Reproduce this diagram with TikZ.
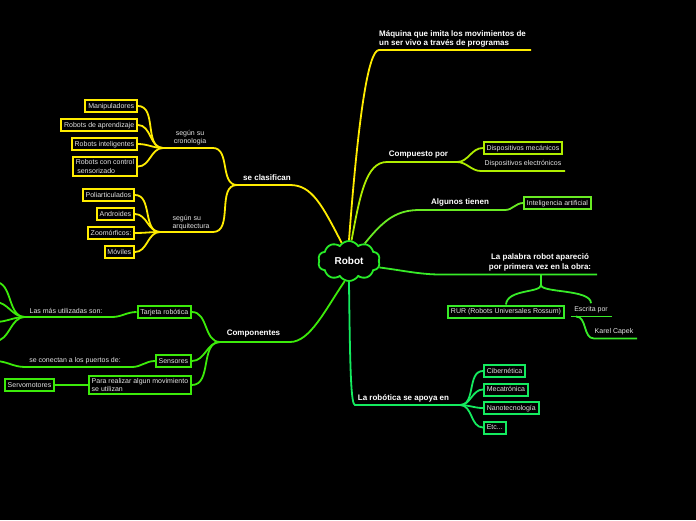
\documentclass[tikz,border=0pt]{standalone}
\usepackage{fontspec}
\setmainfont{Liberation Sans}
\usetikzlibrary{shapes.symbols}

\definecolor{ylw}{RGB}{255,236,0}
\definecolor{chart}{RGB}{175,238,0}
\definecolor{algc}{RGB}{105,235,35}
\definecolor{palc}{RGB}{55,235,40}
\definecolor{apoc}{RGB}{20,235,95}
\definecolor{cpoc}{RGB}{60,235,10}
\definecolor{cloudc}{RGB}{40,235,40}
\definecolor{txt}{RGB}{228,228,228}

\begin{document}
\begin{tikzpicture}[x=1pt, y=-1pt,
    every node/.style={font=\fontsize{7}{8.5}\selectfont, text=txt},
    leaf/.style={draw, line width=2pt, fill=black, inner xsep=2.8pt, inner ysep=2.4pt, text height=5.6pt, text depth=1.6pt},
    topic/.style={font=\bfseries\fontsize{8}{9.5}\selectfont, text=white, inner sep=1pt},
    sub/.style={align=center},
    link/.style={line width=1.8pt}]
\useasboundingbox (0,0) rectangle (696,520);
\clip (0,0) rectangle (696,520);
\fill[black] (0,0) rectangle (696,520);

\node[cloud, cloud puffs=10, cloud puff arc=115, aspect=1.6, draw=cloudc, line width=1.8pt, fill=black,
      minimum width=62pt, minimum height=40pt, inner sep=0pt,
      font=\bfseries\fontsize{10}{12}\selectfont, text=white] (robot) at (349,261) {Robot};

% se clasifican
\coordinate (clasL) at (237,185); \coordinate (clasR) at (290,185);
\node[topic] (clas) at (267,178) {se clasifican};
\draw[link, ylw] (robot.112) .. controls (322,205) and (312,185) .. (clasR) -- (clasL);
\coordinate (cronL) at (163,148); \coordinate (cronR) at (213,148);
\node[sub] (cron) at (190,137.5) {según su\\ cronologia};
\draw[link, ylw] (clasL) to[out=180,in=0] (cronR) -- (cronL);
\coordinate (arqL) at (160,232); \coordinate (arqR) at (213,232);
\node[align=left, anchor=west] (arq) at (169,222.5) {según su\\arquitectura};
\draw[link, ylw] (clasL) to[out=180,in=0] (arqR) -- (arqL);

\node[leaf, draw=ylw, anchor=east] (manip) at (138,106) {Manipuladores};
\node[leaf, draw=ylw, anchor=east] (aprend) at (138,125) {Robots de aprendizaje};
\node[leaf, draw=ylw, anchor=east] (intel) at (138,144) {Robots inteligentes};
\node[leaf, draw=ylw, anchor=east, align=left, text height=, text depth=] (senso) at (138,166.5) {Robots con control\\\hspace{1.5pt}sensorizado};
\foreach \n in {manip,aprend,intel,senso}
  \draw[link, ylw] (cronL) to[out=180,in=0] (\n.east);

\node[leaf, draw=ylw, anchor=east] (poli) at (135,195) {Poliarticulados};
\node[leaf, draw=ylw, anchor=east] (andr) at (135,214) {Androides};
\node[leaf, draw=ylw, anchor=east] (zoom) at (135,233) {Zoomórficos:};
\node[leaf, draw=ylw, anchor=east] (movil) at (135,252) {Móviles};
\foreach \n in {poli,andr,zoom,movil}
  \draw[link, ylw] (arqL) to[out=180,in=0] (\n.east);

% definicion
\coordinate (maqL) at (379,50); \coordinate (maqR) at (531,50);
\node[topic, align=left, anchor=south west] (maq) at (378,48.5) {Máquina que imita los movimientos de\\un ser vivo a través de programas};
\draw[link, ylw] (robot.north) .. controls (358,120) and (368,50) .. (maqL) -- (maqR);

% compuesto
\coordinate (compL) at (387,162); \coordinate (compR) at (457,162);
\node[topic] (comp) at (418.5,155) {Compuesto por};
\draw[link, chart] (robot.83) .. controls (360,195) and (366,162) .. (compL) -- (compR);
\node[leaf, draw=chart] (mec) at (523,148) {Dispositivos mecánicos};
\coordinate (elecL) at (481,171); \coordinate (elecR) at (565,171);
\node (elec) at (523,164) {Dispositivos electrónicos};
\draw[link, chart] (compR) to[out=0,in=180] (mec.west);
\draw[link, chart] (compR) to[out=0,in=180] (elecL) -- (elecR);

% algunos tienen
\coordinate (algL) at (420,210); \coordinate (algR) at (505,210);
\node[topic] (alg) at (460,202) {Algunos tienen};
\draw[link, algc] (robot.48) .. controls (385,218) and (398,210) .. (algL) -- (algR);
\node[leaf, draw=algc] (ia) at (557.5,203) {Inteligencia artificial};
\draw[link, algc] (algR) to[out=0,in=180] (ia.west);

% la palabra robot
\coordinate (palL) at (440,274.5); \coordinate (palR) at (597,274.5);
\coordinate (palJ) at (541,274.5); \coordinate (palS) at (541,285);
\node[topic, align=center] (pal) at (540,262.5) {La palabra robot apareció\\ por primera vez en la obra:};
\draw[link, palc] (robot.-12) .. controls (400,270) and (420,274.5) .. (palL) -- (palR);
\draw[link, palc] (palJ) -- (palS);
\node[leaf, draw=palc] (rur) at (506,311.5) {RUR (Robots Universales Rossum)};
\node (esc) at (591,310) {Escrita por};
\coordinate (escL) at (571,316.5); \coordinate (escR) at (612,316.5);
\draw[link, palc] (palS) .. controls (541,293) and (507,289) .. (rur.north);
\draw[link, palc] (palS) .. controls (541,293) and (591,289) .. (esc.north);
\draw[link, palc] (escL) -- (escR);
\coordinate (escK) at (576,316.5); \coordinate (kapL) at (594,338.5); \coordinate (kapR) at (637,338.5);
\node (kap) at (614,332) {Karel Capek};
\draw[link, palc] (escK) to[out=0,in=180] (kapL) -- (kapR);

% se apoya en
\coordinate (apoL) at (355,405); \coordinate (apoR) at (460,405);
\node[topic] (apo) at (403.5,398) {La robótica se apoya en};
\draw[link, apoc] (robot.south) .. controls (350,370) and (351,405) .. (apoL) -- (apoR);
\node[leaf, draw=apoc, anchor=west] (cib) at (483,371) {Cibernética};
\node[leaf, draw=apoc, anchor=west] (meca) at (483,389.5) {Mecatrónica};
\node[leaf, draw=apoc, anchor=west] (nano) at (483,408) {Nanotecnología};
\node[leaf, draw=apoc, anchor=west] (etc) at (483,427.5) {Etc...};
\foreach \n in {cib,meca,nano,etc}
  \draw[link, apoc] (apoR) to[out=0,in=180] (\n.west);

% componentes
\coordinate (cpoL) at (220,342); \coordinate (cpoR) at (290,342);
\node[topic] (cpo) at (253.5,334) {Componentes};
\draw[link, cpoc] (robot.258) .. controls (325,310) and (310,342) .. (cpoR) -- (cpoL);
\node[leaf, draw=cpoc, anchor=east] (tarj) at (192,312) {Tarjeta robótica};
\node[leaf, draw=cpoc, anchor=east] (sens) at (192,361) {Sensores};
\node[leaf, draw=cpoc, anchor=east, align=left, text height=, text depth=] (mov) at (192,385) {Para realizar algun movimiento\\se utilizan};
\foreach \n in {tarj,sens,mov}
  \draw[link, cpoc] (cpoL) to[out=180,in=0] (\n.east);

\coordinate (masL) at (25,317); \coordinate (masR) at (112,317);
\node (mas) at (66,311) {Las más utilizadas son:};
\draw[link, cpoc] (tarj.west) to[out=180,in=0] (masR) -- (masL);
\foreach \y [count=\i] in {282,302,322,341} {
  \coordinate (mas\i) at (-5,\y);
  \draw[link, cpoc] (masL) to[out=180,in=0] (mas\i);
}
\coordinate (conL) at (25,367); \coordinate (conR) at (132,367); \coordinate (con0) at (-5,361);
\node (con) at (75,361) {se conectan a los puertos de:};
\draw[link, cpoc] (sens.west) to[out=180,in=0] (conR) -- (conL) to[out=180,in=0] (con0);
\node[leaf, draw=cpoc] (servo) at (29.5,385) {Servomotores};
\draw[link, cpoc] (mov.west) -- (servo.east);
\end{tikzpicture}
\end{document}
